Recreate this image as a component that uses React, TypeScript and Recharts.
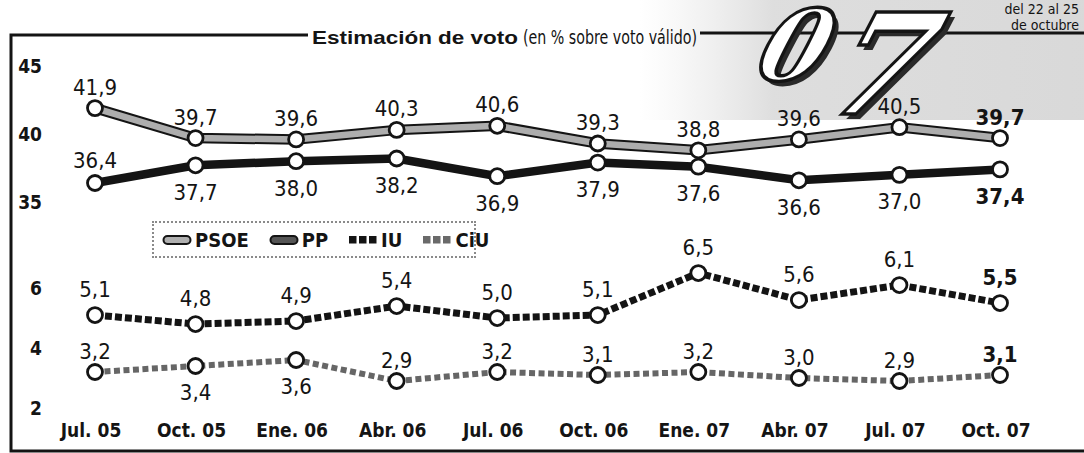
import { Legend, LabelList, Line, LineChart, XAxis, YAxis } from "recharts";

const MONTHS = ["Jul. 05", "Oct. 05", "Ene. 06", "Abr. 06", "Jul. 06", "Oct. 06", "Ene. 07", "Abr. 07", "Jul. 07", "Oct. 07"];
const PSOE = [41.9, 39.7, 39.6, 40.3, 40.6, 39.3, 38.8, 39.6, 40.5, 39.7];
const PP = [36.4, 37.7, 38.0, 38.2, 36.9, 37.9, 37.6, 36.6, 37.0, 37.4];
const IU = [5.1, 4.8, 4.9, 5.4, 5.0, 5.1, 6.5, 5.6, 6.1, 5.5];
const CIU = [3.2, 3.4, 3.6, 2.9, 3.2, 3.1, 3.2, 3.0, 2.9, 3.1];
const TOP_TICKS = [35, 40, 45];
const LOW_TICKS = [2, 4, 6];
const PARTIES = ["PSOE", "PP", "IU", "CiU"];

// where the value label sits (true = under the point)
const PP_BELOW = [false, true, true, true, true, true, true, true, true, true];
const CIU_BELOW = [false, true, true, false, false, false, false, false, false, false];
const NONE_BELOW = MONTHS.map(() => false);

const data = MONTHS.map((month, i) => ({ month, psoe: PSOE[i], pp: PP[i], iu: IU[i], ciu: CIU[i] }));

const NARROW = "'Liberation Sans Narrow', 'DejaVu Sans Condensed', sans-serif";
const WIDE = "'Liberation Sans', Arial, sans-serif";
const INK = "#141414";
const DOT = { r: 7.5, fill: "#fff", stroke: INK, strokeWidth: 2.8, strokeDasharray: "0" };

const fmt = (v: number) => v.toFixed(1).replace(".", ",");

const valueLabel = (below: boolean[], up: number, down: number) => (props: any) => {
  const { x, y, value, index } = props;
  const last = index === MONTHS.length - 1;
  return (
    <text
      x={x}
      y={below[index] ? y + down : y - up}
      textAnchor="middle"
      dominantBaseline="central"
      fontFamily={NARROW}
      fontSize={22}
      fontWeight={last ? "bold" : "normal"}
      fill={INK}
    >
      {fmt(Number(value))}
    </text>
  );
};

const YTick = (props: any) => (
  <text x={42} y={props.y} textAnchor="end" dominantBaseline="central" fontFamily={NARROW} fontWeight="bold" fontSize={19} fill={INK}>
    {props.payload.value}
  </text>
);

const XTick = (props: any) => (
  <text x={props.x - 4} y={props.y + 8} textAnchor="middle" dominantBaseline="central" fontFamily={NARROW} fontWeight="bold" fontSize={19} fill={INK}>
    {props.payload.value}
  </text>
);

const LegendIcon = ({ name }: { name: string }) => {
  if (name === "PSOE" || name === "PP") {
    return (
      <svg width={30} height={12}>
        <rect x={1.5} y={2} width={27} height={8} rx={4} fill={name === "PSOE" ? "#b0b0b0" : "#555"} stroke={INK} strokeWidth={2} />
      </svg>
    );
  }
  const fill = name === "IU" ? INK : "#6a6a6a";
  return (
    <svg width={30} height={12}>
      {[0, 1, 2].map((k) => (
        <rect key={k} x={1 + k * 10} y={2} width={7.5} height={7.5} fill={fill} />
      ))}
    </svg>
  );
};

const LegendBox = () => (
  <div
    style={{
      display: "flex",
      alignItems: "center",
      gap: 20,
      height: 37,
      padding: "0 8px",
      border: "2px dotted #8a8a8a",
      background: "rgba(255,255,255,0.85)",
      boxSizing: "border-box",
    }}
  >
    {PARTIES.map((p) => (
      <div key={p} style={{ display: "flex", alignItems: "center", gap: 3 }}>
        <LegendIcon name={p} />
        <span style={{ fontFamily: NARROW, fontWeight: "bold", fontSize: 20, color: INK }}>{p}</span>
      </div>
    ))}
  </div>
);

const Glyph = ({ ch, x, y, size }: { ch: string; x: number; y: number; size: number }) => (
  <g transform={`translate(${x} ${y}) skewX(-18)`}>
    <text x={6} y={5} fontFamily="'DejaVu Serif', serif" fontStyle="italic" fontWeight="bold" fontSize={size} fill="#2a2a2a">
      {ch}
    </text>
    <text x={0} y={0} fontFamily="'DejaVu Serif', serif" fontStyle="italic" fontWeight="bold" fontSize={size} fill="#fff" stroke={INK} strokeWidth={3.5}>
      {ch}
    </text>
  </g>
);

export default function App() {
  return (
    <div style={{ position: "absolute", left: 0, top: 0, width: 1084, height: 453, background: "#fff", overflow: "hidden" }}>
      <svg width={1084} height={453} style={{ position: "absolute", left: 0, top: 0 }}>
        <defs>
          <linearGradient id="shade" x1="0" y1="0" x2="1" y2="0">
            <stop offset="0" stopColor="#e4e4e4" stopOpacity={0} />
            <stop offset="0.3" stopColor="#d8d8d8" stopOpacity={0.85} />
            <stop offset="1" stopColor="#d2d2d2" stopOpacity={0.85} />
          </linearGradient>
        </defs>
        <rect x={640} y={0} width={444} height={120} fill="url(#shade)" />
        <path d="M308 35 H11 V451 H1084" fill="none" stroke={INK} strokeWidth={3} />
        <path d="M700 33 H1084" fill="none" stroke={INK} strokeWidth={3} />
        <text x={312} y={37} dominantBaseline="central" fontFamily={WIDE} fontWeight="bold" fontSize={19} fill={INK} textLength={206} lengthAdjust="spacingAndGlyphs">
          Estimación de voto
        </text>
        <text x={523} y={37} dominantBaseline="central" fontFamily={NARROW} fontSize={19} fill={INK} textLength={174} lengthAdjust="spacingAndGlyphs">
          (en % sobre voto válido)
        </text>
        <text x={1079} y={9} textAnchor="end" dominantBaseline="central" fontFamily={NARROW} fontSize={14} fill={INK}>
          del 22 al 25
        </text>
        <text x={1079} y={25} textAnchor="end" dominantBaseline="central" fontFamily={NARROW} fontSize={14} fill={INK}>
          de octubre
        </text>
        <Glyph ch="0" x={752} y={80} size={98} />
        <Glyph ch="7" x={822} y={114} size={140} />
      </svg>
      <div style={{ position: "absolute", left: 0, top: 0 }}>
        <LineChart width={1084} height={453} data={data} margin={{ top: 40, right: 12, bottom: 3, left: 0 }}>
          <XAxis
            dataKey="month"
            scale="point"
            padding={{ left: 45, right: 72 }}
            axisLine={false}
            tickLine={false}
            tickSize={0}
            height={30}
            interval={0}
            tick={<XTick />}
          />
          <YAxis yAxisId="top" width={25} domain={[19, 46.9]} ticks={TOP_TICKS} axisLine={false} tickLine={false} tick={<YTick />} />
          <YAxis yAxisId="low" width={25} domain={[1.6, 14.27]} ticks={LOW_TICKS} axisLine={false} tickLine={false} tick={<YTick />} />
          <Legend
            layout="horizontal"
            verticalAlign="middle"
            align="center"
            wrapperStyle={{ left: 152, top: 221, width: 324, height: 37 }}
            content={<LegendBox />}
          />
          <Line yAxisId="top" dataKey="psoe" stroke={INK} strokeWidth={10.5} dot={false} legendType="none" isAnimationActive={false} />
          <Line yAxisId="top" dataKey="psoe" name="PSOE" stroke="#adadad" strokeWidth={6.5} dot={DOT} isAnimationActive={false}>
            <LabelList dataKey="psoe" content={valueLabel(NONE_BELOW, 21, 27)} />
          </Line>
          <Line yAxisId="top" dataKey="pp" name="PP" stroke={INK} strokeWidth={8.5} dot={DOT} isAnimationActive={false}>
            <LabelList dataKey="pp" content={valueLabel(PP_BELOW, 23, 27)} />
          </Line>
          <Line yAxisId="low" dataKey="iu" name="IU" stroke={INK} strokeWidth={7} strokeDasharray="7 3" dot={DOT} isAnimationActive={false}>
            <LabelList dataKey="iu" content={valueLabel(NONE_BELOW, 26, 26)} />
          </Line>
          <Line yAxisId="low" dataKey="ciu" name="CiU" stroke="#666" strokeWidth={6} strokeDasharray="6 3.5" dot={DOT} isAnimationActive={false}>
            <LabelList dataKey="ciu" content={valueLabel(CIU_BELOW, 21, 26)} />
          </Line>
        </LineChart>
      </div>
    </div>
  );
}
